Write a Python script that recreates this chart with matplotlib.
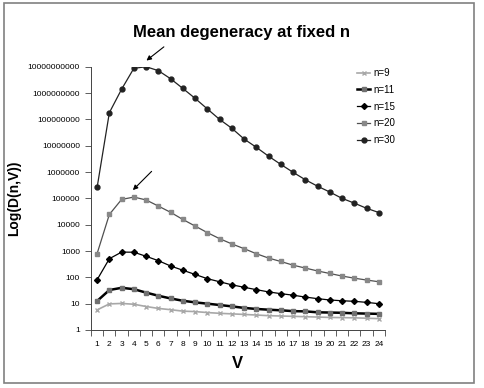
"""Mean degeneracy at fixed n - log plot of D(n,V) against V"""
import numpy as np
import matplotlib
matplotlib.use('Agg')
import matplotlib.pyplot as plt
from matplotlib.patches import Rectangle
from matplotlib.ticker import FixedLocator, NullFormatter

plt.rcParams['font.family'] = ['Liberation Sans', 'DejaVu Sans']

# Data
V = list(range(1, 25))
d_n9 = [5.8, 9.8, 10.2, 9.5, 7.8, 6.6, 5.9, 5.2, 5.0, 4.6, 4.3, 4.1,
        3.9, 3.7, 3.5, 3.4, 3.3, 3.2, 3.1, 3.0, 2.95, 2.9, 2.8, 2.7]
d_n11 = [12.6, 33, 40, 35.5, 26.3, 20, 15.8, 12.9, 11.2, 10.0, 8.9, 7.9,
         6.9, 6.3, 5.9, 5.6, 5.2, 5.1, 4.7, 4.6, 4.5, 4.3, 4.2, 4.1]
d_n15 = [81, 510, 910, 900, 630, 430, 270, 186, 129, 89, 68, 52,
         42, 34, 28, 24, 21, 17.8, 15.5, 13.8, 12.9, 12.3, 11.2, 10.0]
d_n20 = [800, 24500, 91000, 112000, 87000, 51000, 29500, 15800, 8900, 5000, 2950, 1860,
         1230, 790, 540, 400, 290, 225, 175, 140, 112, 93, 79, 68]
d_n30 = [2.6e5, 1.8e8, 1.4e9, 8.7e9, 1.0e10, 7.1e9, 3.5e9, 1.5e9, 6.3e8, 2.5e8, 1.0e8, 4.6e7,
         1.8e7, 8.7e6, 4.0e6, 1.95e6, 9.8e5, 5.1e5, 2.9e5, 1.74e5, 1.0e5, 6.6e4, 4.2e4, 2.9e4]
y_ticks = [1, 10, 100, 1000, 10000, 100000, 1000000, 10000000,
           100000000, 1000000000, 10000000000]

fig = plt.figure(figsize=(4.85, 3.88), dpi=100)
ax = fig.add_axes([0.1876, 0.1495, 0.606, 0.6785])

ax.plot(V, d_n9, '-', color='#a8a8a8', lw=1.2, marker='x', ms=3.5, mew=1.0,
        mec='#a8a8a8', label='n=9')
ax.plot(V, d_n11, '-', color='black', lw=1.8, marker='s', ms=3.2,
        mfc='#707070', mec='#707070', label='n=11')
ax.plot(V, d_n15, '-', color='black', lw=0.9, marker='D', ms=3.0,
        mfc='black', mec='black', label='n=15')
ax.plot(V, d_n20, '-', color='#505050', lw=0.9, marker='s', ms=3.5,
        mfc='#888888', mec='#888888', label='n=20')
ax.plot(V, d_n30, '-', color='#222222', lw=0.9, marker='o', ms=3.5,
        mfc='#222222', mec='#222222', label='n=30')

ax.set_yscale('log')
ax.set_ylim(1, 1e10)
ax.set_xlim(0.5, 24.5)
ax.yaxis.set_major_locator(FixedLocator(y_ticks))
ax.yaxis.set_minor_locator(FixedLocator([]))
ax.set_yticklabels([str(t) for t in y_ticks])
ax.set_xticks(V)
ax.set_xticks(np.arange(0.5, 25, 1), minor=True)
ax.xaxis.set_minor_formatter(NullFormatter())
ax.tick_params(axis='x', which='major', length=0, labelsize=6, pad=8)
ax.tick_params(axis='x', which='minor', length=4, width=0.6, color='#444444')
ax.tick_params(axis='y', which='major', length=4, width=0.6, labelsize=6,
               color='#444444', pad=4)

for s in ['top', 'right']:
    ax.spines[s].set_visible(False)
for s in ['left', 'bottom']:
    ax.spines[s].set_linewidth(0.7)
    ax.spines[s].set_color('#444444')

ax.set_xlabel('V', fontsize=12, fontweight='bold', labelpad=6)
ax.set_ylabel('Log(D(n,V))', fontsize=10, fontweight='bold')
ax.yaxis.set_label_coords(-0.236, 0.5)
fig.text(0.498, 0.915, 'Mean degeneracy at fixed n', ha='center', va='center',
         fontsize=12, fontweight='bold')

# Arrows pointing at the peaks
arrow_style = dict(arrowstyle='-|>', color='black', lw=0.8, mutation_scale=7)
ax.annotate('', xy=(4.85, 10 ** 10.17), xytext=(6.63, 10 ** 10.82),
            arrowprops=arrow_style, annotation_clip=False)
ax.annotate('', xy=(3.76, 10 ** 5.24), xytext=(5.61, 10 ** 6.10),
            arrowprops=arrow_style)

ax.legend(loc='upper left', bbox_to_anchor=(0.728, 0.835), bbox_transform=fig.transFigure,
          frameon=False, fontsize=7, handlelength=1.35, handletextpad=0.3,
          labelspacing=0.7, borderaxespad=0)

fig.add_artist(Rectangle((0.009, 0.013), 0.968, 0.978, transform=fig.transFigure,
                         fill=False, edgecolor='#808080', lw=1.2))

plt.savefig('out.png', dpi=100)
